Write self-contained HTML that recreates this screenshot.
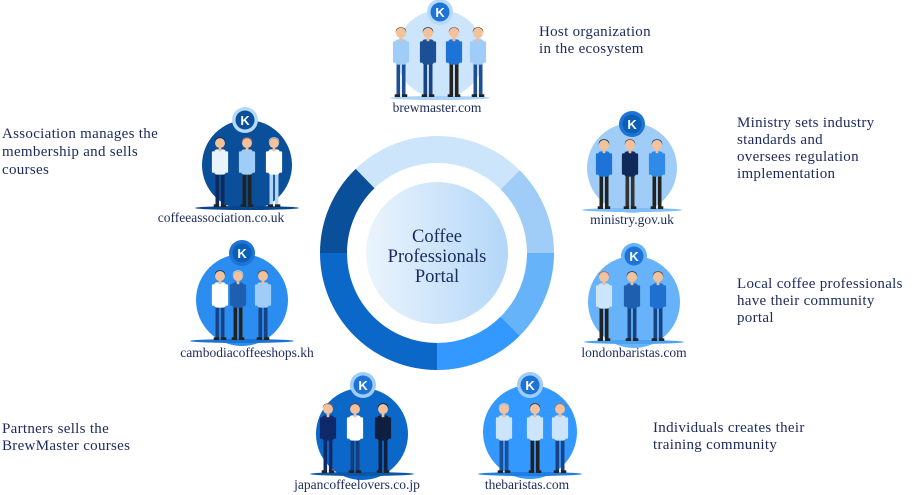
<!DOCTYPE html>
<html><head><meta charset="utf-8"><style>
html,body{margin:0;padding:0;background:#fff;width:920px;height:495px;overflow:hidden}
svg{display:block}
text{font-family:"Liberation Serif",serif;fill:#1b2a5c}
.d{font-size:15px;letter-spacing:0.3px}
.l{font-size:13.5px}
</style></head><body>
<svg width="920" height="495" viewBox="0 0 920 495">
<defs>
<linearGradient id="ig" x1="0" x2="1" y1="0" y2="0"><stop offset="0" stop-color="#eaf4fd"/><stop offset="1" stop-color="#b3d7f8"/></linearGradient>
<g id="p0">
<rect x="-5" y="-38" width="4" height="36" fill="var(--p)"/>
<rect x="1" y="-38" width="4" height="36" fill="var(--p)"/>
<rect x="-7" y="-3" width="6" height="3" fill="#222"/>
<rect x="1" y="-3" width="6" height="3" fill="#222"/>
<rect x="-9" y="-62" width="3" height="24" rx="1.5" fill="var(--s)"/>
<rect x="6" y="-62" width="3" height="24" rx="1.5" fill="var(--s)"/>
<rect x="-6.5" y="-64" width="13" height="28" rx="3" fill="var(--s)"/>
<rect x="-1.5" y="-66" width="3" height="4" fill="#f0bd97"/>
<circle cx="0" cy="-71" r="5.5" fill="#f3c29b"/>
<path d="M-5.8,-71 a5.8,5.8 0 0 1 11.6,0 l0,-2 a5.8,4.5 0 0 0 -11.6,0z" fill="var(--h)"/>
</g>
<g id="p"><use href="#p0" transform="scale(0.9)"/></g>
<g id="k"><circle r="13" fill="var(--r)"/><circle r="9.5" fill="var(--b)"/><text x="0" y="5" text-anchor="middle" style="font-family:'Liberation Sans',sans-serif;font-weight:bold;font-size:13px;fill:#fff">K</text></g>
</defs>

<g fill="none" stroke-width="27">
<path d="M365.1,178.6 A103.5,103.5 0 0 1 510.2,179.8" stroke="#cce5fb"/>
<path d="M510.2,179.8 A103.5,103.5 0 0 1 540.5,253" stroke="#9fcdf7"/>
<path d="M540.5,253 A103.5,103.5 0 0 1 510.2,326.2" stroke="#66b3fa"/>
<path d="M510.2,326.2 A103.5,103.5 0 0 1 437,356.5" stroke="#3399ff"/>
<path d="M437,356.5 A103.5,103.5 0 0 1 333.5,253" stroke="#0b68c8"/>
<path d="M333.5,253 A103.5,103.5 0 0 1 365.1,178.6" stroke="#0a4f99"/>
</g>
<circle cx="437" cy="253" r="71" fill="url(#ig)"/>
<text x="437" y="242" text-anchor="middle" style="font-size:18.5px">Coffee</text>
<text x="437" y="262" text-anchor="middle" style="font-size:18.5px">Professionals</text>
<text x="437" y="282" text-anchor="middle" style="font-size:18.5px">Portal</text>

<circle cx="440" cy="54" r="44" fill="#cce5fb"/>
<ellipse cx="440" cy="98" rx="50" ry="2" fill="#a9d2f8"/>
<use href="#p" transform="translate(401,97)" style="--s:#9fcdf7;--p:#1d4f94;--h:#6b3b1e"/>
<use href="#p" transform="translate(428,97)" style="--s:#1d4f94;--p:#174384;--h:#222"/>
<use href="#p" transform="translate(454,97)" style="--s:#1e74d6;--p:#222;--h:#a5462a"/>
<use href="#p" transform="translate(478,97)" style="--s:#9fcdf7;--p:#1d4f94;--h:#6b3b1e"/>
<use href="#k" transform="translate(440,12)" style="--r:#b4d9f9;--b:#1e74d6"/>
<text class="l" x="437" y="112" text-anchor="middle">brewmaster.com</text>

<circle cx="632" cy="168" r="45" fill="#9fcdf7"/>
<ellipse cx="632" cy="210" rx="50" ry="2" fill="#7fbdf5"/>
<use href="#p" transform="translate(604,209)" style="--s:#1e74d6;--p:#222;--h:#111"/>
<use href="#p" transform="translate(630,209)" style="--s:#0f2a5a;--p:#333;--h:#6b3b1e"/>
<use href="#p" transform="translate(657,209)" style="--s:#2f8ae8;--p:#222;--h:#1c2a4a"/>
<use href="#k" transform="translate(632,124)" style="--r:#1e74d6;--b:#0b5fb5"/>
<text class="l" x="632" y="224" text-anchor="middle">ministry.gov.uk</text>

<circle cx="634" cy="302" r="46" fill="#66b3fa"/>
<ellipse cx="634" cy="342" rx="50" ry="2" fill="#4aa2f5"/>
<use href="#p" transform="translate(604,341)" style="--s:#cce5fb;--p:#222;--h:#c0603c"/>
<use href="#p" transform="translate(632,341)" style="--s:#1e5fb0;--p:#174384;--h:#1c2a4a"/>
<use href="#p" transform="translate(658,341)" style="--s:#1e6fd0;--p:#174384;--h:#6b3b1e"/>
<use href="#k" transform="translate(634,256)" style="--r:#66b3fa;--b:#1e74d6"/>
<text class="l" x="634" y="357" text-anchor="middle">londonbaristas.com</text>

<circle cx="530" cy="432" r="47" fill="#3399ff"/>
<ellipse cx="530" cy="474" rx="52" ry="2" fill="#1e7fe0"/>
<use href="#p" transform="translate(504,473)" style="--s:#cce5fb;--p:#1d4f94;--h:#ddd"/>
<use href="#p" transform="translate(535,473)" style="--s:#cce5fb;--p:#222;--h:#4a2a1a"/>
<use href="#p" transform="translate(560,473)" style="--s:#cce5fb;--p:#174384;--h:#c0703c"/>
<use href="#k" transform="translate(530,385)" style="--r:#9fcdf7;--b:#1e74d6"/>
<text class="l" x="527" y="489" text-anchor="middle">thebaristas.com</text>

<circle cx="362" cy="434" r="46" fill="#0b68c8"/>
<ellipse cx="362" cy="474" rx="52" ry="2" fill="#0a57a8"/>
<use href="#p" transform="translate(328,473)" style="--s:#0f2a6a;--p:#0f2a6a;--h:#a0603c"/>
<use href="#p" transform="translate(355,473)" style="--s:#fff;--p:#173c7a;--h:#6b3b1e"/>
<use href="#p" transform="translate(383,473)" style="--s:#0f1f3f;--p:#0f1f3f;--h:#111"/>
<use href="#k" transform="translate(363,385)" style="--r:#9fcdf7;--b:#1e74d6"/>
<text class="l" x="357" y="489" text-anchor="middle">japancoffeelovers.co.jp</text>

<circle cx="242" cy="300" r="46" fill="#2c8df0"/>
<ellipse cx="242" cy="341" rx="52" ry="2" fill="#1b72d0"/>
<use href="#p" transform="translate(220,340)" style="--s:#fff;--p:#174384;--h:#1c2a4a"/>
<use href="#p" transform="translate(238,340)" style="--s:#1e5fb0;--p:#222;--h:#ddd"/>
<use href="#p" transform="translate(263,340)" style="--s:#9fcdf7;--p:#174384;--h:#6b3b1e"/>
<use href="#k" transform="translate(242,253)" style="--r:#1e74d6;--b:#0b5fb5"/>
<text class="l" x="247" y="357" text-anchor="middle">cambodiacoffeeshops.kh</text>

<circle cx="247" cy="165" r="45" fill="#0a4f99"/>
<ellipse cx="247" cy="208" rx="52" ry="2" fill="#0a4590"/>
<use href="#p" transform="translate(220,207)" style="--s:#e8f3fd;--p:#0f2a5a;--h:#1c2a4a"/>
<use href="#p" transform="translate(247,207)" style="--s:#9fcdf7;--p:#222;--h:#d0603c"/>
<use href="#p" transform="translate(274,207)" style="--s:#fff;--p:#b3d7f8;--h:#ddd"/>
<use href="#k" transform="translate(245,120)" style="--r:#b4d9f9;--b:#0a4f99"/>
<text class="l" x="221" y="222" text-anchor="middle">coffeeassociation.co.uk</text>

<text class="d" x="539" y="36">Host organization</text>
<text class="d" x="539" y="53">in the ecosystem</text>
<text class="d" x="2" y="138">Association manages the</text>
<text class="d" x="2" y="156">membership and sells</text>
<text class="d" x="2" y="174">courses</text>
<text class="d" x="737" y="127">Ministry sets industry</text>
<text class="d" x="737" y="144">standards and</text>
<text class="d" x="737" y="161">oversees regulation</text>
<text class="d" x="737" y="178">implementation</text>
<text class="d" x="737" y="288">Local coffee professionals</text>
<text class="d" x="737" y="305">have their community</text>
<text class="d" x="737" y="322">portal</text>
<text class="d" x="2" y="433">Partners sells the</text>
<text class="d" x="2" y="450">BrewMaster courses</text>
<text class="d" x="653" y="432">Individuals creates their</text>
<text class="d" x="653" y="449">training community</text>
</svg>
</body></html>
